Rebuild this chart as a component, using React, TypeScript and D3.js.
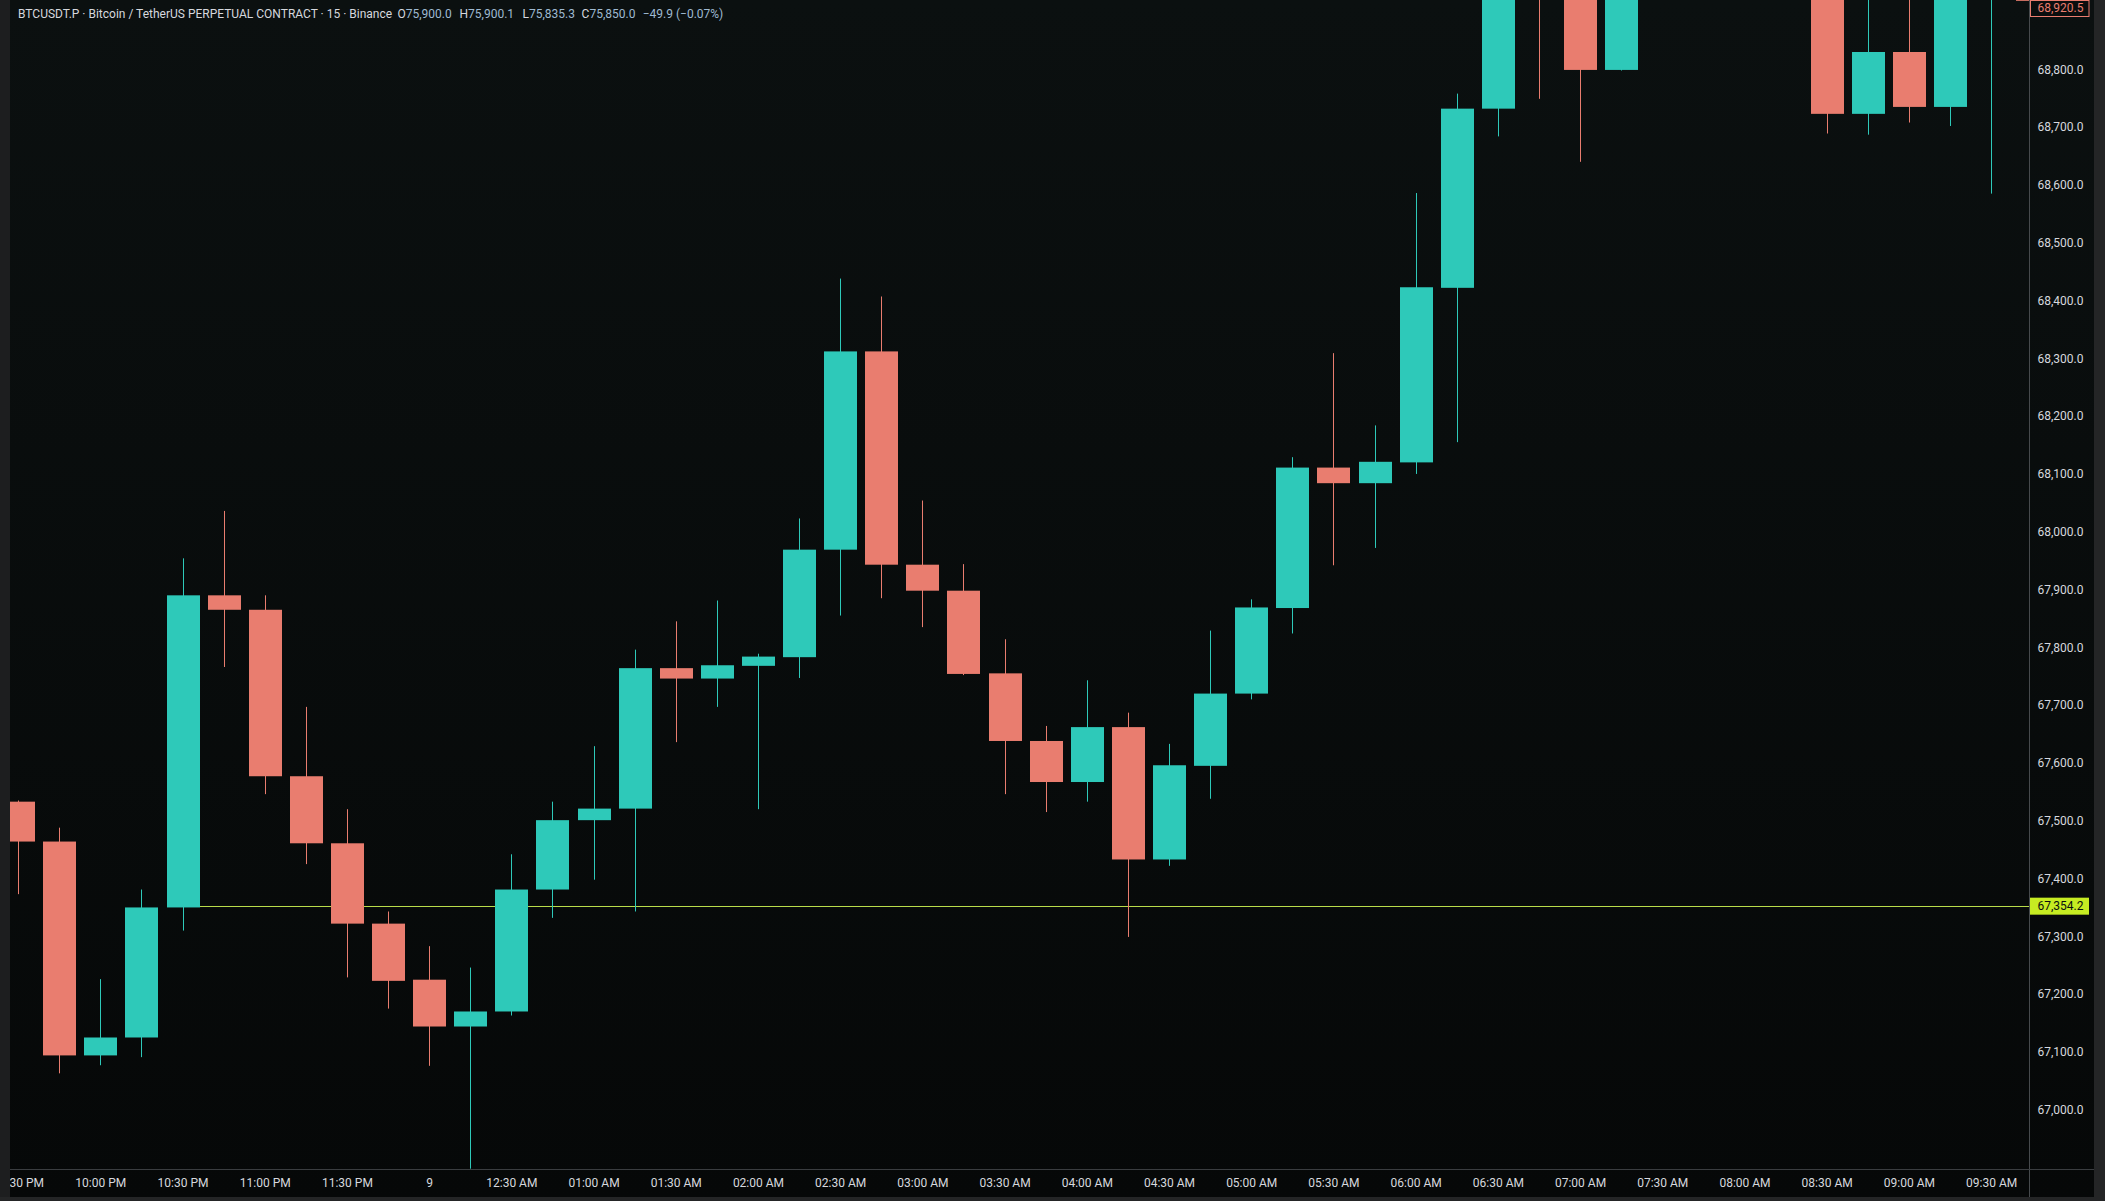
import React from "react";
import * as d3 from "d3";

const W = 2105;
const H = 1201;

const candleTimes = [
  "21:30", "21:45", "22:00", "22:15", "22:30", "22:45", "23:00", "23:15", "23:30", "23:45",
  "00:00", "00:15", "00:30", "00:45", "01:00", "01:15", "01:30", "01:45", "02:00", "02:15",
  "02:30", "02:45", "03:00", "03:15", "03:30", "03:45", "04:00", "04:15", "04:30", "04:45",
  "05:00", "05:15", "05:30", "05:45", "06:00", "06:15", "06:30", "06:45", "07:00", "07:15",
  "07:30", "07:45", "08:00", "08:15", "08:30", "08:45", "09:00", "09:15", "09:30", "09:45",
];

const opens = [
  67535, 67466, 67096, 67127, 67352, 67892, 67867, 67579, 67463, 67324,
  67227, 67146, 67172, 67383, 67503, 67523, 67766, 67748, 67770, 67785,
  67971, 68314, 67945, 67900, 67757, 67640, 67569, 67664, 67435, 67597,
  67722, 67870, 68113, 68086, 68122, 68424, 68734, 68995, 68955, 68801,
  68985, 69070, 69020, 68990, 68965, 68725, 68832, 68737, 68965, 69030,
];
const highs = [
  67537, 67490, 67228, 67383, 67956, 68038, 67892, 67699, 67522, 67345,
  67285, 67248, 67444, 67535, 67631, 67798, 67847, 67883, 67791, 68025,
  68440, 68409, 68056, 67946, 67816, 67666, 67745, 67689, 67635, 67831,
  67885, 68131, 68311, 68186, 68588, 68760, 69040, 69060, 68990, 69020,
  69110, 69130, 69060, 69040, 68990, 68950, 68935, 68990, 69060, 69040,
];
const lows = [
  67375, 67065, 67079, 67093, 67312, 67768, 67548, 67427, 67231, 67177,
  67078, 66900, 67165, 67334, 67400, 67345, 67638, 67699, 67522, 67749,
  67857, 67887, 67837, 67754, 67548, 67517, 67535, 67301, 67424, 67540,
  67712, 67826, 67944, 67974, 68102, 68157, 68686, 68751, 68642, 68800,
  68950, 68990, 68940, 68925, 68691, 68689, 68710, 68704, 68587, 68915,
];
const closes = [
  67466, 67096, 67127, 67352, 67892, 67867, 67579, 67463, 67324, 67225,
  67146, 67172, 67383, 67503, 67523, 67766, 67748, 67771, 67786, 67971,
  68314, 67945, 67900, 67756, 67640, 67569, 67664, 67435, 67598, 67722,
  67871, 68113, 68086, 68123, 68425, 68734, 68995, 68955, 68801, 68985,
  69070, 69020, 68990, 68970, 68725, 68832, 68737, 68965, 69030, 68920.5,
];

const priceTicks = [
  67000, 67100, 67200, 67300, 67400, 67500, 67600, 67700, 67800, 67900,
  68000, 68100, 68200, 68300, 68400, 68500, 68600, 68700, 68800,
];

const timeLabelIndex = [0, 2, 4, 6, 8, 10, 12, 14, 16, 18, 20, 22, 24, 26, 28, 30, 32, 34, 36, 38, 40, 42, 44, 46, 48];
const timeLabels = [
  "09:30 PM", "10:00 PM", "10:30 PM", "11:00 PM", "11:30 PM", "9", "12:30 AM", "01:00 AM",
  "01:30 AM", "02:00 AM", "02:30 AM", "03:00 AM", "03:30 AM", "04:00 AM", "04:30 AM",
  "05:00 AM", "05:30 AM", "06:00 AM", "06:30 AM", "07:00 AM", "07:30 AM", "08:00 AM",
  "08:30 AM", "09:00 AM", "09:30 AM",
];

const headerTitle = "BTCUSDT.P · Bitcoin / TetherUS PERPETUAL CONTRACT · 15 · Binance";
const headerKeys = ["O", "H", "L", "C"];
const headerValues = ["75,900.0", "75,900.1", "75,835.3", "75,850.0"];
const headerChange = "−49.9 (−0.07%)";

const rayPrice = 67354.2;
const rayStartIndex = 4;
const lastPrice = 68920.5;

const UP = "#2ec9b9";
const DOWN = "#e97d6f";
const BG = "#0a0e0e";
const TEXT = "#d6d8de";
const FONT = "Roboto, 'Noto Sans', sans-serif";

const PLOT_L = 10;
const PLOT_R = 2029;
const PLOT_B = 1169;
const AXIS_R = 2094;
const BOTTOM = 1197;

export default function App() {
  const x = d3.scaleLinear().domain([1, 47]).range([59.7, 1950.5]);
  const y = d3.scaleLinear().domain([67000, 68800]).range([1110.9, 70.5]);
  const bodyW = 33;
  const fmt = d3.format(",.1f");

  const headerX = [397.5, 459.5, 522.5, 581.6];

  const rayY = y(rayPrice);
  const lastY = y(lastPrice);
  const lastBoxY = Math.max(0, lastY - 8.5);

  return (
    <svg
      width={W}
      height={H}
      style={{ position: "fixed", left: 0, top: 0, display: "block" }}
      fontFamily={FONT}
    >
      <defs>
        <linearGradient id="bg" x1="0" y1="0" x2="0" y2="1">
          <stop offset="0" stopColor="#0b1010" />
          <stop offset="1" stopColor="#060808" />
        </linearGradient>
        <clipPath id="plot">
          <rect x={PLOT_L} y={0} width={PLOT_R - PLOT_L} height={PLOT_B} />
        </clipPath>
        <clipPath id="taxis">
          <rect x={PLOT_L} y={PLOT_B} width={PLOT_R - PLOT_L} height={BOTTOM - PLOT_B} />
        </clipPath>
      </defs>

      <rect x={0} y={0} width={W} height={H} fill="url(#bg)" />

      <g clipPath="url(#plot)">
        <line
          x1={x(rayStartIndex)}
          x2={PLOT_R}
          y1={Math.round(rayY) + 0.5}
          y2={Math.round(rayY) + 0.5}
          stroke="#b9dc4a"
          strokeWidth={1}
        />
        {opens.map((o, i) => {
          const c = closes[i];
          const col = c >= o ? UP : DOWN;
          const cx = x(i);
          const top = y(Math.max(o, c));
          const bot = y(Math.min(o, c));
          const wx = Math.floor(cx) + 0.5;
          return (
            <g key={candleTimes[i]}>
              <line x1={wx} x2={wx} y1={y(highs[i])} y2={y(lows[i])} stroke={col} strokeWidth={1} />
              <rect
                x={Math.round(cx - bodyW / 2)}
                y={top}
                width={bodyW}
                height={Math.max(1, bot - top)}
                fill={col}
              />
            </g>
          );
        })}
      </g>

      {/* header */}
      <text x={18} y={18.3} fontSize={12} fill={TEXT}>{headerTitle}</text>
      {headerKeys.map((k, i) => (
        <text key={k} x={headerX[i]} y={18.3} fontSize={12}>
          <tspan fill={TEXT}>{k}</tspan>
          <tspan fill="#9fbad2">{headerValues[i]}</tspan>
        </text>
      ))}
      <text x={642.7} y={18.3} fontSize={12} fill="#9fbad2">{headerChange}</text>

      {/* separators */}
      <line x1={PLOT_R + 0.5} x2={PLOT_R + 0.5} y1={0} y2={BOTTOM} stroke="#464a4d" strokeWidth={1} />
      <line x1={PLOT_L} x2={AXIS_R} y1={PLOT_B + 0.5} y2={PLOT_B + 0.5} stroke="#3a3d40" strokeWidth={1} />

      {/* price axis */}
      {priceTicks.map((p) => (
        <text key={p} x={2037.5} y={y(p) - 1} fontSize={12} fill={TEXT} dominantBaseline="central">
          {fmt(p)}
        </text>
      ))}

      {/* ray label */}
      <rect x={2030} y={rayY - 8.5} width={59} height={17} fill="#c6ec22" />
      <text x={2037.5} y={rayY} fontSize={12} fill="#0b0f0f" dominantBaseline="central">
        {fmt(rayPrice)}
      </text>

      {/* last price label */}
      <rect x={2030.5} y={lastBoxY + 0.5} width={58.5} height={16} fill={BG} stroke={DOWN} strokeWidth={1} />
      <text x={2037.5} y={lastBoxY + 8} fontSize={12} fill={DOWN} dominantBaseline="central">
        {fmt(lastPrice)}
      </text>

      {/* time axis */}
      <g clipPath="url(#taxis)">
        {timeLabelIndex.map((idx, i) => (
          <text key={timeLabels[i]} x={x(idx)} y={1183} fontSize={12} fill={TEXT} textAnchor="middle" dominantBaseline="central">
            {timeLabels[i]}
          </text>
        ))}
      </g>

      {/* borders */}
      <rect x={0} y={0} width={PLOT_L} height={H} fill="#1d1e1f" />
      <rect x={AXIS_R} y={0} width={W - AXIS_R} height={H} fill="#242526" />
      <rect x={0} y={BOTTOM} width={W} height={H - BOTTOM} fill="#242526" />
    </svg>
  );
}
